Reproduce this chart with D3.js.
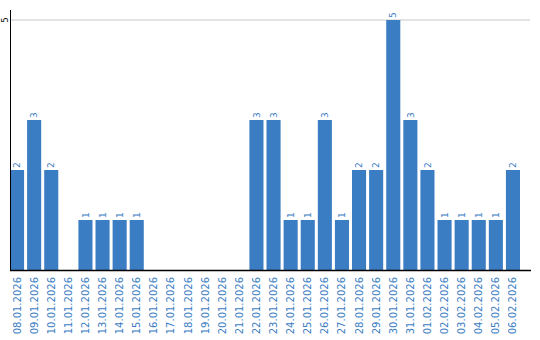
<!DOCTYPE html>
<html>
<head>
<meta charset="utf-8">
<script src="https://cdn.jsdelivr.net/npm/d3@7"></script>
<style>
  body { margin: 0; background: #fff; }
  text { font-family: "DejaVu Sans", sans-serif; }
</style>
</head>
<body>
<svg id="js-svg" width="540" height="340"></svg>
<script>
const dates = [
  "08.01.2026", "09.01.2026", "10.01.2026", "11.01.2026", "12.01.2026",
  "13.01.2026", "14.01.2026", "15.01.2026", "16.01.2026", "17.01.2026",
  "18.01.2026", "19.01.2026", "20.01.2026", "21.01.2026", "22.01.2026",
  "23.01.2026", "24.01.2026", "25.01.2026", "26.01.2026", "27.01.2026",
  "28.01.2026", "29.01.2026", "30.01.2026", "31.01.2026", "01.02.2026",
  "02.02.2026", "03.02.2026", "04.02.2026", "05.02.2026", "06.02.2026"
];
const counts = [2, 3, 2, 0, 1, 1, 1, 1, 0, 0, 0, 0, 0, 0, 3, 3, 1, 1, 3, 1, 2, 2, 5, 3, 2, 1, 1, 1, 1, 2];
const yTicks = [5];

const blue = "#3b7dc3";
const svg = d3.select("#js-svg");

const x = d3.scaleBand()
  .domain(dates)
  .range([10, 520])
  .paddingInner(3 / 17)
  .paddingOuter(0)
  .align(0);

const y = d3.scaleLinear()
  .domain([0, 5])
  .range([270, 20]);

// grid line
svg.selectAll(".grid")
  .data(yTicks)
  .enter()
  .append("line")
  .attr("x1", 10)
  .attr("x2", 530)
  .attr("y1", (d) => y(d))
  .attr("y2", (d) => y(d))
  .style("stroke", "#c8c8c8")
  .style("stroke-width", "1px");

// y tick labels
svg.selectAll(".ylab")
  .data(yTicks)
  .enter()
  .append("text")
  .attr("transform", (d) => `translate(7.5, ${y(d)}) rotate(-90)`)
  .attr("text-anchor", "middle")
  .attr("font-size", "8px")
  .attr("fill", "#000")
  .text((d) => d);

// bars
const data = dates.map((d, i) => ({ date: d, value: counts[i] }));

svg.selectAll(".bar")
  .data(data.filter((d) => d.value > 0))
  .enter()
  .append("rect")
  .attr("x", (d) => x(d.date))
  .attr("y", (d) => y(d.value))
  .attr("width", x.bandwidth())
  .attr("height", (d) => y(0) - y(d.value))
  .style("fill", blue);

// value labels
svg.selectAll(".val")
  .data(data.filter((d) => d.value > 0))
  .enter()
  .append("text")
  .attr("transform", (d) => `translate(${x(d.date) + x.bandwidth() / 2}, ${y(d.value) - 2}) rotate(-90)`)
  .attr("dy", "0.35em")
  .attr("text-anchor", "start")
  .attr("font-size", "9px")
  .attr("fill", blue)
  .text((d) => d.value);

// axes lines
svg.append("line")
  .attr("x1", 10.5).attr("x2", 10.5)
  .attr("y1", 10).attr("y2", 270)
  .style("stroke", "#000")
  .style("stroke-width", "1px");

svg.append("line")
  .attr("x1", 10).attr("x2", 531)
  .attr("y1", 270.5).attr("y2", 270.5)
  .style("stroke", "#000")
  .style("stroke-width", "1.5px");

// x labels
svg.selectAll(".xlab")
  .data(dates)
  .enter()
  .append("text")
  .attr("transform", (d) => `translate(${x(d) + x.bandwidth() / 2}, 277) rotate(-90)`)
  .attr("dy", "0.35em")
  .attr("text-anchor", "end")
  .attr("font-size", "10px")
  .attr("fill", blue)
  .text((d) => d);
</script>
</body>
</html>
